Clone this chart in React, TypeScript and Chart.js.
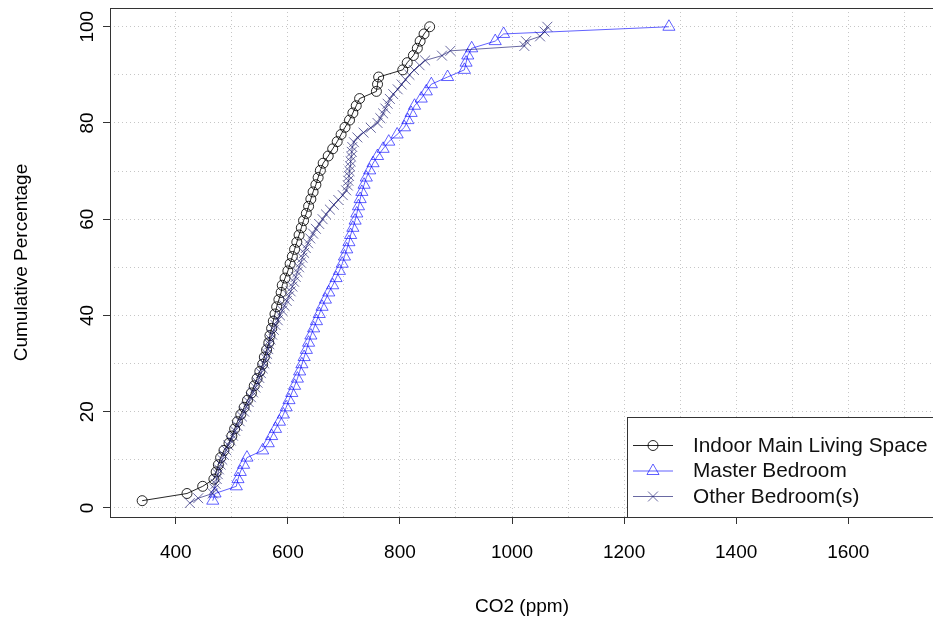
import React, { useEffect, useRef } from 'react';
import { Chart, registerables } from 'chart.js';

Chart.register(...registerables);

// CO2 (ppm) values, sorted, one per observation (cumulative distribution)
const indoorCO2 = [
  340, 420, 448, 468, 472, 476, 480, 486, 495, 500,
  505, 510, 516, 522, 528, 535, 540, 545, 550, 555,
  558, 562, 566, 568, 571, 574, 577, 580, 584, 588,
  590, 595, 600, 604, 608, 612, 616, 620, 624, 628,
  633, 637, 641, 645, 650, 654, 658, 663, 672, 680,
  688, 695, 702, 710, 716, 722, 728, 758, 760, 762,
  805, 813, 824, 831, 836, 843, 853,
];

const masterCO2 = [
  466, 470, 508, 511, 515, 521, 527, 555, 565, 571,
  578, 585, 592, 597, 602, 607, 612, 617, 621, 625,
  629, 633, 637, 641, 646, 651, 656, 661, 667, 673,
  680, 686, 692, 697, 701, 705, 709, 712, 716, 720,
  723, 726, 729, 732, 736, 740, 746, 752, 760, 770,
  780, 795, 808, 814, 820, 826, 838, 847, 856, 885,
  915, 918, 921, 928, 970, 985, 1280,
];

const otherCO2 = [
  425, 440, 466, 469, 471, 473, 475, 477, 480, 483,
  486, 490, 494, 498, 502, 506, 510, 514, 518, 522,
  526, 530, 534, 538, 542, 546, 549, 552, 555, 558,
  561, 563, 565, 567, 569, 572, 575, 578, 582, 586,
  590, 594, 598, 602, 605, 608, 611, 614, 617, 620,
  623, 626, 629, 632, 636, 640, 645, 650, 656, 662,
  668, 675, 682, 690, 698, 704, 707, 708, 709, 710,
  711, 712, 713, 714, 715, 718, 724, 735, 748, 760,
  765, 770, 774, 778, 782, 788, 796, 803, 810, 817,
  825, 835, 845, 875, 890, 1022, 1025, 1050, 1058, 1063,
];

const seriesNames = ['Indoor Main Living Space', 'Master Bedroom', 'Other Bedroom(s)'];
const xGridValues = [400, 500, 600, 700, 800, 900, 1000, 1100, 1200, 1300, 1400, 1500, 1600, 1700];
const xLabelValues = [400, 600, 800, 1000, 1200, 1400, 1600];
const yGridValues = [0, 10, 20, 30, 40, 50, 60, 70, 80, 90, 100];
const yLabelValues = [0, 20, 40, 60, 80, 100];

const FONT = "'Liberation Sans', Arial, sans-serif";
const COL_INDOOR = 'rgba(0,0,0,0.85)';
const COL_MASTER = 'rgba(0,0,255,0.62)';
const COL_OTHER = 'rgba(25,25,112,0.65)';
const GRID = '#c6c6c6';

function cumulative(values: number[]) {
  return values.map((v, i) => ({ x: v, y: ((i + 1) / values.length) * 100 }));
}

function drawMarker(ctx: CanvasRenderingContext2D, style: string, x: number, y: number, r: number) {
  ctx.beginPath();
  if (style === 'circle') {
    ctx.arc(x, y, r, 0, Math.PI * 2);
  } else if (style === 'triangle') {
    let a = 0;
    ctx.moveTo(x + Math.sin(a) * r, y - Math.cos(a) * r);
    a += (Math.PI * 2) / 3;
    ctx.lineTo(x + Math.sin(a) * r, y - Math.cos(a) * r);
    a += (Math.PI * 2) / 3;
    ctx.lineTo(x + Math.sin(a) * r, y - Math.cos(a) * r);
    ctx.closePath();
  } else {
    const o = Math.cos(Math.PI / 4) * r;
    ctx.moveTo(x - o, y - o);
    ctx.lineTo(x + o, y + o);
    ctx.moveTo(x - o, y + o);
    ctx.lineTo(x + o, y - o);
  }
  ctx.stroke();
}

const boxPlugin = {
  id: 'plotBox',
  afterDatasetsDraw(chart: any) {
    const { ctx, chartArea } = chart;
    const { left, top, right, bottom } = chartArea;
    ctx.save();
    ctx.strokeStyle = '#333';
    ctx.lineWidth = 1;
    ctx.strokeRect(Math.round(left) + 0.5, Math.round(top) + 0.5, right - left, bottom - top);
    ctx.restore();
  },
};

const legendPlugin = {
  id: 'rLegend',
  afterDraw(chart: any) {
    const { ctx, chartArea } = chart;
    const bx = 627.5;
    const by = 417.5;
    const right = chartArea.right + 0.5;
    const bottom = Math.round(chartArea.bottom) + 0.5;
    ctx.save();
    ctx.fillStyle = '#ffffff';
    ctx.fillRect(bx, by, right - bx, bottom - by);
    ctx.strokeStyle = '#333';
    ctx.lineWidth = 1;
    ctx.strokeRect(bx, by, right - bx, bottom - by);
    const items = [
      { color: COL_INDOOR, style: 'circle', r: 5 },
      { color: COL_MASTER, style: 'triangle', r: 7 },
      { color: COL_OTHER, style: 'crossRot', r: 7 },
    ];
    const rows = [445, 470.5, 496];
    items.forEach((it, i) => {
      const y = rows[i];
      ctx.strokeStyle = it.color;
      ctx.lineWidth = 1;
      ctx.beginPath();
      ctx.moveTo(633, y + 0.5);
      ctx.lineTo(673, y + 0.5);
      ctx.stroke();
      drawMarker(ctx, it.style, 653, y + 0.5, it.r);
      ctx.fillStyle = '#111';
      ctx.font = `20.8px ${FONT}`;
      ctx.textAlign = 'left';
      ctx.textBaseline = 'middle';
      ctx.fillText(seriesNames[i], 693, y + 1);
    });
    ctx.restore();
  },
};

export default function App() {
  const canvasRef = useRef<HTMLCanvasElement | null>(null);

  useEffect(() => {
    const canvas = canvasRef.current;
    if (!canvas) return;
    const chart = new Chart(canvas, {
      type: 'line',
      data: {
        datasets: [
          {
            label: seriesNames[2],
            data: cumulative(otherCO2),
            borderColor: COL_OTHER,
            pointBorderColor: COL_OTHER,
            pointBackgroundColor: 'rgba(0,0,0,0)',
            pointStyle: 'crossRot',
            pointRadius: 7,
            pointBorderWidth: 1,
            borderWidth: 1,
            tension: 0,
            order: 0,
          },
          {
            label: seriesNames[1],
            data: cumulative(masterCO2),
            borderColor: COL_MASTER,
            pointBorderColor: COL_MASTER,
            pointBackgroundColor: 'rgba(0,0,0,0)',
            pointStyle: 'triangle',
            pointRadius: 7,
            pointBorderWidth: 1,
            borderWidth: 1,
            tension: 0,
            order: 1,
          },
          {
            label: seriesNames[0],
            data: cumulative(indoorCO2),
            borderColor: COL_INDOOR,
            pointBorderColor: COL_INDOOR,
            pointBackgroundColor: 'rgba(0,0,0,0)',
            pointStyle: 'circle',
            pointRadius: 5,
            pointBorderWidth: 1,
            borderWidth: 1,
            tension: 0,
            order: 2,
          },
        ],
      },
      options: {
        animation: false,
        responsive: false,
        devicePixelRatio: 1,
        parsing: false as any,
        layout: { padding: { top: 7, right: 5, left: 0, bottom: 0 } },
        plugins: {
          legend: { display: false },
          tooltip: { enabled: false },
        },
        scales: {
          x: {
            type: 'linear',
            min: 282.6,
            max: 1753,
            afterBuildTicks: (s: any) => {
              s.ticks = xGridValues.map((v) => ({ value: v }));
            },
            afterFit: (s: any) => {
              s.height = 110;
              s.paddingLeft = 0;
              s.paddingRight = 0;
            },
            grid: {
              color: GRID,
              lineWidth: 1,
              drawTicks: true,
              tickLength: 7,
              tickWidth: 1,
              tickBorderDash: [],
              tickColor: (c: any) => (xLabelValues.includes(c.tick?.value) ? '#333' : 'rgba(0,0,0,0)'),
            },
            border: { display: false, dash: [1, 3] },
            ticks: {
              autoSkip: false,
              maxRotation: 0,
              minRotation: 0,
              padding: 17,
              color: '#000',
              font: { family: FONT, size: 19 },
              callback: (v: any) => (xLabelValues.includes(Number(v)) ? String(v) : ''),
            },
            title: {
              display: true,
              text: 'CO2 (ppm)',
              color: '#000',
              font: { family: FONT, size: 19 },
              padding: { top: 0, bottom: 9 },
            },
          },
          y: {
            type: 'linear',
            min: -1.9,
            max: 103.9,
            afterBuildTicks: (s: any) => {
              s.ticks = yGridValues.map((v) => ({ value: v }));
            },
            afterFit: (s: any) => {
              s.width = 110;
              s.paddingTop = 0;
              s.paddingBottom = 0;
            },
            grid: {
              color: GRID,
              lineWidth: 1,
              drawTicks: true,
              tickLength: 7,
              tickWidth: 1,
              tickBorderDash: [],
              tickColor: (c: any) => (yLabelValues.includes(c.tick?.value) ? '#333' : 'rgba(0,0,0,0)'),
            },
            border: { display: false, dash: [1, 3] },
            ticks: {
              autoSkip: false,
              minRotation: 90,
              maxRotation: 90,
              crossAlign: 'center',
              padding: -1,
              color: '#000',
              font: { family: FONT, size: 19 },
              callback: (v: any) => (yLabelValues.includes(Number(v)) ? String(v) : ''),
            },
            title: {
              display: true,
              text: 'Cumulative Percentage',
              color: '#000',
              font: { family: FONT, size: 19 },
              padding: { top: 10, bottom: 0 },
            },
          },
        },
      },
      plugins: [boxPlugin, legendPlugin],
    } as any);
    return () => chart.destroy();
  }, []);

  return (
    <div style={{ position: 'fixed', left: 0, top: 0, width: 942, height: 627, background: '#fff' }}>
      <canvas ref={canvasRef} width={942} height={627} style={{ display: 'block', width: 942, height: 627 }} />
    </div>
  );
}
